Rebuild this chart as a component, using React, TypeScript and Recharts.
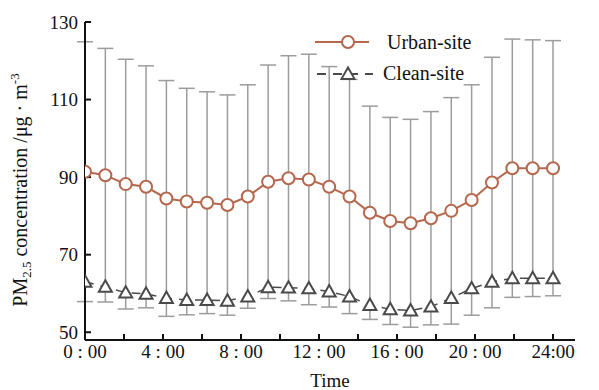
import React from 'react';
import {
  ComposedChart,
  Line,
  ErrorBar,
  XAxis,
  YAxis,
} from 'recharts';

// Colours picked from the figure
const URBAN_COLOR = '#b5674d';
const CLEAN_COLOR = '#4a4a4a';
const BAR_COLOR = '#9c9c9c';
const FONT = 'Liberation Serif';

// Hourly slots 0..23
const HOURS = [0, 1, 2, 3, 4, 5, 6, 7, 8, 9, 10, 11, 12, 13, 14, 15, 16, 17, 18, 19, 20, 21, 22, 23];

// Urban-site mean PM2.5 and its standard deviation
const URBAN = [
  91.4, 90.5, 88.2, 87.5, 84.5, 83.7, 83.4, 82.8, 85.0, 88.8, 89.7, 89.4,
  87.5, 85.0, 80.8, 78.7, 78.1, 79.4, 81.3, 84.1, 88.6, 92.3, 92.3, 92.3,
];
const URBAN_SD = [
  33.5, 32.7, 32.2, 31.2, 30.4, 29.2, 28.6, 28.4, 28.8, 30.1, 31.6, 32.3,
  31.0, 30.2, 27.5, 26.7, 26.8, 27.5, 29.2, 29.7, 32.3, 33.3, 33.1, 32.9,
];

// Clean-site mean PM2.5
const CLEAN = [
  63.0, 61.7, 60.2, 59.9, 58.8, 58.3, 58.3, 58.1, 59.2, 61.6, 61.5, 61.3,
  60.5, 59.2, 57.0, 55.9, 55.6, 56.6, 58.8, 61.3, 63.0, 63.9, 63.9, 63.9,
];

// Axis ticks
const TICK_HOURS = [0, 2, 4, 6, 8, 10, 12, 14, 16, 18, 20, 22, 24];
const TICK_LABELS: Record<number, string> = {
  0: '0 : 00',
  4: '4 : 00',
  8: '8 : 00',
  12: '12 : 00',
  16: '16 : 00',
  20: '20 : 00',
  24: '24:00',
};
const Y_TICKS = [50, 70, 90, 110, 130];

// the 24 slots are stretched so the last one sits on the 24:00 tick
const SLOT_PER_HOUR = 23 / 24;
const X_DOMAIN: [number, number] = [0, 24.08];
const Y_DOMAIN: [number, number] = [48, 130];

const data = HOURS.map((h, i) => ({
  slot: h,
  urban: URBAN[i],
  urbanSd: URBAN_SD[i],
  clean: CLEAN[i],
}));

const tickPositions = TICK_HOURS.map(h => h * SLOT_PER_HOUR);

const Triangle = (props: any) => {
  const { cx, cy } = props;
  if (cx == null || cy == null) return null;
  const s = 6.5;
  return (
    <path
      d={`M${cx},${cy - s} L${cx + s},${cy + s * 0.75} L${cx - s},${cy + s * 0.75} Z`}
      fill="#fff"
      stroke={CLEAN_COLOR}
      strokeWidth={2}
    />
  );
};

// legend drawn by hand, laid over the plot's top right corner
const LegendBox = () => (
  <svg
    width={180}
    height={60}
    style={{ position: 'absolute', left: 315, top: 30, overflow: 'visible' }}
  >
    <line x1={0} y1={12} x2={54} y2={12} stroke={URBAN_COLOR} strokeWidth={2} />
    <circle cx={33} cy={12} r={6} fill="#fff" stroke={URBAN_COLOR} strokeWidth={2} />
    <text x={72} y={12} dominantBaseline="central" fontFamily={FONT} fontSize={20} fill="#111">
      Urban-site
    </text>
    <line x1={2} y1={44} x2={58} y2={44} stroke={CLEAN_COLOR} strokeWidth={2} strokeDasharray="9 7" />
    <Triangle cx={33} cy={44} />
    <text x={68} y={43} dominantBaseline="central" fontFamily={FONT} fontSize={20} fill="#111">
      Clean-site
    </text>
  </svg>
);

const YLabel = () => (
  <text
    transform="translate(27, 190) rotate(-90)"
    textAnchor="middle"
    fontFamily={FONT}
    fontSize={20}
    fill="#111"
  >
    PM<tspan fontSize={13} dy={4}>2.5</tspan>
    <tspan dy={-4}> concentration /μg · m</tspan>
    <tspan fontSize={13} dy={-8}>-3</tspan>
  </text>
);

const tickStyle = { fill: '#111', fontSize: 19, fontFamily: FONT };

export default function App() {
  return (
    <div
      style={{
        position: 'absolute',
        left: 0,
        top: 0,
        width: 599,
        height: 390,
        background: '#fff',
        fontFamily: FONT,
      }}
    >
      <ComposedChart
        width={599}
        height={390}
        data={data}
        margin={{ top: 22, right: 24, left: 0, bottom: 0 }}
        style={{ fontFamily: FONT }}
      >
        <XAxis
          dataKey="slot"
          type="number"
          domain={X_DOMAIN}
          ticks={tickPositions}
          interval={0}
          allowDataOverflow
          tickFormatter={(v: number) => TICK_LABELS[Math.round(v / SLOT_PER_HOUR)] ?? ''}
          height={50}
          tickSize={-6}
          tickMargin={11}
          axisLine={{ stroke: '#111', strokeWidth: 2 }}
          tickLine={{ stroke: '#111', strokeWidth: 2 }}
          tick={tickStyle}
          label={{ value: 'Time', position: 'insideBottom', offset: 3, ...tickStyle }}
        />
        <XAxis
          xAxisId="top"
          orientation="top"
          type="number"
          domain={X_DOMAIN}
          height={0}
          tick={false}
          tickLine={false}
          axisLine={{ stroke: '#111', strokeWidth: 2 }}
        />
        <YAxis
          type="number"
          domain={Y_DOMAIN}
          ticks={Y_TICKS}
          interval={0}
          allowDataOverflow
          width={85}
          tickSize={-6}
          tickMargin={13}
          axisLine={{ stroke: '#111', strokeWidth: 2 }}
          tickLine={{ stroke: '#111', strokeWidth: 2 }}
          tick={tickStyle}
          label={<YLabel />}
        />
        <YAxis
          yAxisId="right"
          orientation="right"
          type="number"
          domain={Y_DOMAIN}
          width={0}
          tick={false}
          tickLine={false}
          axisLine={{ stroke: '#111', strokeWidth: 2 }}
        />
        <Line
          dataKey="urban"
          name="Urban-site"
          type="linear"
          stroke={URBAN_COLOR}
          strokeWidth={2}
          dot={{ r: 6, fill: '#fff', stroke: URBAN_COLOR, strokeWidth: 2 }}
          activeDot={false}
          isAnimationActive={false}
        >
          <ErrorBar dataKey="urbanSd" direction="y" width={8} stroke={BAR_COLOR} strokeWidth={1.5} />
        </Line>
        <Line
          dataKey="clean"
          name="Clean-site"
          type="linear"
          stroke={CLEAN_COLOR}
          strokeWidth={1.5}
          strokeDasharray="9 7"
          dot={<Triangle />}
          activeDot={false}
          isAnimationActive={false}
        />
      </ComposedChart>
      <LegendBox />
    </div>
  );
}
